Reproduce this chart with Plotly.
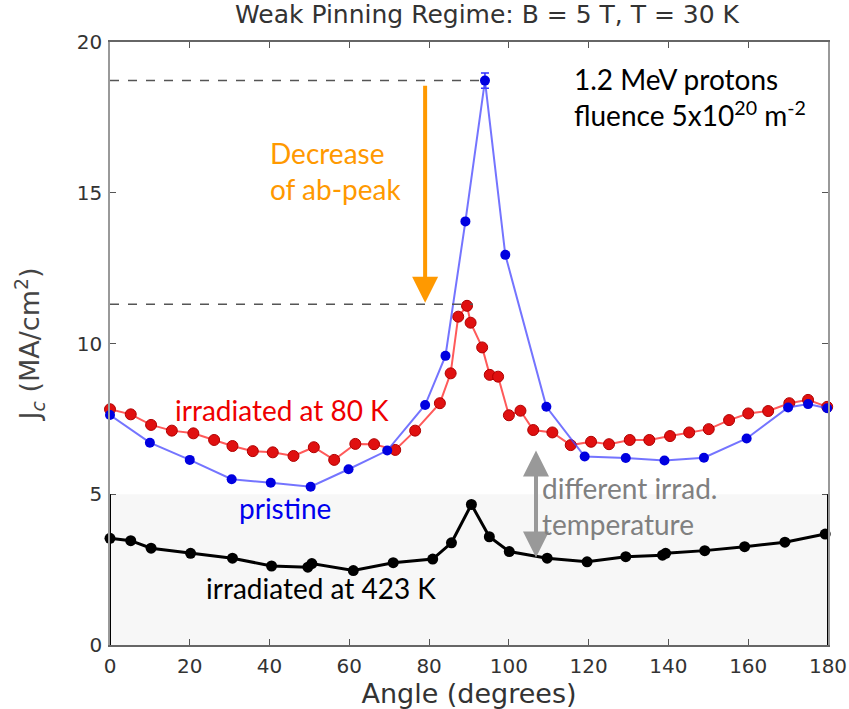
import plotly.graph_objects as go

# ---- data ----
pristine_angle = [0, 10, 20, 30.5, 40.3, 50.3, 59.8, 69.5, 79, 84.1, 89.1, 94, 99.1, 109.4, 119, 129.3, 139, 148.9, 159.6, 170, 175, 179.8]
pristine_jc = [7.63, 6.71, 6.14, 5.50, 5.38, 5.25, 5.83, 6.45, 7.96, 9.59, 14.05, 18.72, 12.94, 7.90, 6.25, 6.20, 6.12, 6.21, 6.85, 7.88, 7.99, 7.85]
pristine_err = [0, 0, 0, 0, 0, 0, 0, 0, 0, 0, 0, 0.25, 0, 0, 0, 0, 0, 0, 0, 0, 0, 0]

irr80_angle = [0, 5.2, 10.3, 15.5, 20.9, 26.1, 30.7, 35.8, 40.8, 46, 51.1, 56.2, 61.5, 66.2, 71.5, 76.5, 82.7, 85.4, 87.3, 89.5, 90.4, 93.3, 95.2, 97.3, 100, 102.9, 106.1, 110.9, 115.5, 120.6, 125.1, 130.3, 135.2, 140.4, 145.2, 150.1, 155.2, 160, 165, 170.3, 175, 179.8]
irr80_jc = [7.82, 7.65, 7.30, 7.11, 7.02, 6.80, 6.60, 6.43, 6.39, 6.27, 6.56, 6.14, 6.67, 6.66, 6.47, 7.11, 8.02, 9.01, 10.89, 11.25, 10.69, 9.87, 8.96, 8.90, 7.62, 7.77, 7.13, 7.05, 6.63, 6.74, 6.66, 6.80, 6.80, 6.93, 7.05, 7.16, 7.46, 7.68, 7.76, 8.02, 8.13, 7.90]

irr423_angle = [0, 5.2, 10.3, 20.2, 30.7, 40.5, 49.6, 50.6, 61, 71, 80.9, 85.6, 90.6, 95.1, 100.1, 109.6, 119.6, 129.3, 138.5, 139.3, 149.1, 159.1, 169.2, 179.3]
irr423_jc = [3.54, 3.46, 3.21, 3.04, 2.88, 2.62, 2.58, 2.70, 2.47, 2.73, 2.85, 3.39, 4.66, 3.59, 3.10, 2.88, 2.76, 2.93, 2.98, 3.04, 3.13, 3.26, 3.41, 3.68]

x_ticks = [0, 20, 40, 60, 80, 100, 120, 140, 160, 180]
y_ticks = [0, 5, 10, 15, 20]

peak_pristine = 18.72
peak_irr80 = 11.3

fig = go.Figure()

# light grey lower band (artefact of the composed figure)
fig.add_shape(type="rect", xref="x", yref="y", x0=0, x1=180, y0=0, y1=5,
              fillcolor="#f7f7f7", line_width=0, layer="below")

# dashed reference lines for the peaks
fig.add_shape(type="line", xref="x", yref="y", x0=0, x1=94, y0=peak_pristine, y1=peak_pristine,
              line=dict(color="#555555", width=1.5, dash="dash"))
fig.add_shape(type="line", xref="x", yref="y", x0=0, x1=91, y0=peak_irr80, y1=peak_irr80,
              line=dict(color="#555555", width=1.5, dash="dash"))

fig.add_trace(go.Scatter(
    x=irr423_angle, y=irr423_jc, mode="lines+markers", name="irradiated at 423 K",
    line=dict(color="#000000", width=3),
    marker=dict(color="#000000", size=11), cliponaxis=False))

fig.add_trace(go.Scatter(
    x=irr80_angle, y=irr80_jc, mode="lines+markers", name="irradiated at 80 K",
    line=dict(color="#ff5a5a", width=2),
    marker=dict(color="#e01010", size=11, line=dict(color="#b00000", width=1)), cliponaxis=False))

fig.add_trace(go.Scatter(
    x=pristine_angle, y=pristine_jc, mode="lines+markers", name="pristine",
    line=dict(color="rgba(70,70,255,0.75)", width=2),
    marker=dict(color="#0000e0", size=10),
    error_y=dict(type="data", array=pristine_err, color="#3030ff", thickness=1.5, width=4),
    cliponaxis=False))

# black frame on the lower part (as in the composite)
for xv in (0, 180):
    fig.add_shape(type="line", xref="x", yref="y", x0=xv, x1=xv, y0=0, y1=5,
                  line=dict(color="#000000", width=2))

# arrows
fig.add_annotation(x=79, y=11.35, ax=79, ay=18.6, xref="x", yref="y", axref="x", ayref="y",
                   showarrow=True, arrowhead=2, arrowsize=1.3, arrowwidth=4, arrowcolor="#ff9900", text="")
fig.add_annotation(x=106.8, y=2.9, ax=106.8, ay=6.5, xref="x", yref="y", axref="x", ayref="y",
                   showarrow=True, arrowhead=2, startarrowhead=2, arrowside="end+start",
                   arrowsize=1.3, startarrowsize=1.3, arrowwidth=4, arrowcolor="#999999", text="")

txt_font = "Lato, 'Open Sans', sans-serif"
fig.add_annotation(x=39.6, y=15.72, xref="x", yref="y", showarrow=False, align="left", xanchor="left",
                   text="Decrease<br>of ab-peak", font=dict(family=txt_font, size=28, color="#ff9900"))
fig.add_annotation(x=115.8, y=18.18, xref="x", yref="y", showarrow=False, align="left", xanchor="left",
                   text="1.2 MeV protons<br>fluence 5x10<sup>20</sup> m<sup>-2</sup>",
                   font=dict(family=txt_font, size=28, color="#000000"))
fig.add_annotation(x=43.1, y=7.79, xref="x", yref="y", showarrow=False, xanchor="center",
                   text="irradiated at 80 K", font=dict(family=txt_font, size=28, color="#ee0000"))
fig.add_annotation(x=43.9, y=4.54, xref="x", yref="y", showarrow=False, xanchor="center",
                   text="pristine", font=dict(family=txt_font, size=28, color="#0000ee"))
fig.add_annotation(x=52.9, y=1.89, xref="x", yref="y", showarrow=False, xanchor="center",
                   text="irradiated at 423 K", font=dict(family=txt_font, size=28, color="#000000"))
fig.add_annotation(x=107.8, y=4.61, xref="x", yref="y", showarrow=False, align="left", xanchor="left",
                   text="different irrad.<br>temperature", font=dict(family=txt_font, size=28, color="#808080"))

axis_font = "DejaVu Sans, sans-serif"
fig.update_layout(
    width=849, height=709,
    margin=dict(l=110, r=21, t=42, b=64),
    paper_bgcolor="white", plot_bgcolor="white",
    showlegend=False,
    title=dict(text="Weak Pinning Regime: B = 5 T, T = 30 K", xref="container", x=0.5736, xanchor="center",
               y=0.980, yanchor="middle",
               font=dict(family=axis_font, size=25, color="#333333")),
    xaxis=dict(range=[0, 180], tickvals=x_ticks, ticks="inside", ticklen=6, tickcolor="#555",
               showgrid=False, zeroline=False, showline=True, linecolor="#666", linewidth=1.5, mirror="ticks",
               automargin=False, ticklabelstandoff=2,
               tickfont=dict(family=axis_font, size=20, color="#333"),
               title=dict(text="Angle (degrees)", font=dict(family=axis_font, size=27, color="#333"), standoff=1)),
    yaxis=dict(range=[0, 20], tickvals=y_ticks, ticks="inside", ticklen=6, tickcolor="#555",
               showgrid=False, zeroline=False, showline=True, linecolor="#999", linewidth=1.5, mirror="ticks",
               automargin=False, ticklabelstandoff=2,
               tickfont=dict(family=axis_font, size=20, color="#333"),
               title=dict(text="J<sub><i>c</i></sub> (MA/cm<sup>2</sup>)",
                          font=dict(family=axis_font, size=27, color="#444"), standoff=29)),
)

# remove the default 8px page margin so the figure sits at the window's corner
fig.write_html("out.html", config={"displayModeBar": False},
               post_script="document.body.style.margin='0';")
